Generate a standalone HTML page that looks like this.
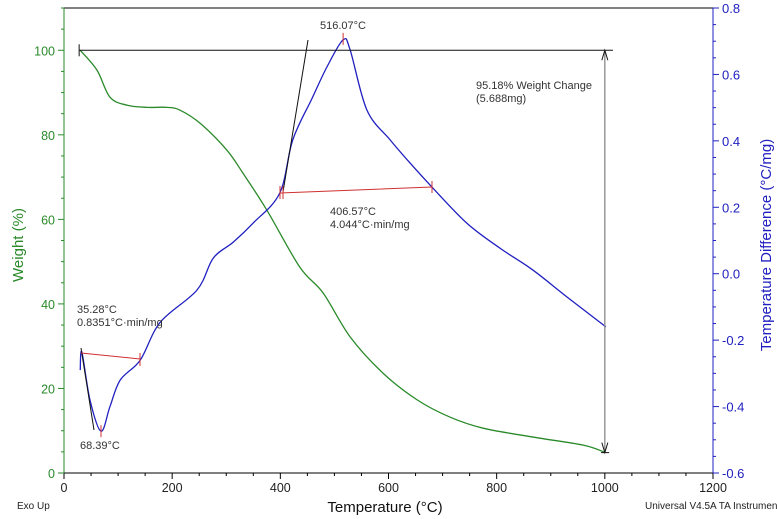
<!DOCTYPE html>
<html><head><meta charset="utf-8"><style>
body{margin:0;background:#fff;}
svg{display:block;font-family:"Liberation Sans",sans-serif;}
</style></head><body>
<svg id="c" width="777" height="519"></svg>
<script>
const weightTemps=[30,61,85,117,154,191,215,252,301,331,375,436,479,529,590,653,714,775,867,960,1000];
const weightValues=[100,95.3,88.9,87.0,86.5,86.5,85.8,82.7,76.4,70.9,62.2,48.7,42.6,32.2,23.6,17.3,13.2,10.6,8.5,6.6,4.9];
const dtaTemps=[30,33,48,68.4,85,104,141,178,246,276,313,350,399,423,459,486,516,529,560,603,640,682,745,806,867,930,1002];
const dtaValues=[-0.29,-0.236,-0.38,-0.474,-0.40,-0.32,-0.26,-0.146,-0.049,0.047,0.095,0.153,0.243,0.403,0.529,0.622,0.704,0.674,0.493,0.403,0.333,0.258,0.152,0.077,0.011,-0.07,-0.16];
const xTicks=[0,200,400,600,800,1000,1200];
const wTicks=[0,20,40,60,80,100];
const dTicks=[-0.6,-0.4,-0.2,0.0,0.2,0.4,0.6,0.8];
const L=64,R=713,T=8,B=473;
const xs=t=>L+(t-0)/1200*(R-L);
const yw=w=>B-(w/110)*(B-T);
const yd=d=>B-((d+0.6)/1.4)*(B-T);
const svg=document.getElementById('c');
const NS='http://www.w3.org/2000/svg';
function mk(tag,attrs,parent){const e=document.createElementNS(NS,tag);for(const k in attrs)e.setAttribute(k,attrs[k]);(parent||svg).appendChild(e);return e;}
function txt(x,y,s,attrs){const e=mk('text',Object.assign({x:x,y:y},attrs||{}));e.textContent=s;return e;}
let e;
e=mk('line',{x1:L,y1:T,x2:R,y2:T,stroke:'#000','stroke-width':1});


e=mk('line',{x1:L,y1:B,x2:R,y2:B,stroke:'#000','stroke-width':1});


e=mk('line',{x1:L,y1:T,x2:L,y2:B,stroke:'#2a8a2a','stroke-width':1});


e=mk('line',{x1:R,y1:T,x2:R,y2:B,stroke:'#2020c0','stroke-width':1});


for(let t=0;t<=1200;t+=50){const maj=t%200===0;
e=mk('line',{x1:xs(t),y1:B,x2:xs(t),y2:B+(maj?6:3),stroke:'#000'});

}
xTicks.forEach(t=>{e=txt(xs(t),B+19,String(t),{'font-size':12.5,'text-anchor':'middle',fill:'#222'});

});
for(let w=0;w<=110;w+=5){const maj=w%20===0;
e=mk('line',{x1:L,y1:yw(w),x2:L-(maj?6:3),y2:yw(w),stroke:'#2a8a2a'});

}
wTicks.forEach(w=>{e=txt(L-9,yw(w)+5,String(w),{'font-size':12.5,'text-anchor':'end',fill:'#2a8a2a'});

});
for(let i=0;i<=28;i++){const d=-0.6+i*0.05;const maj=i%4===0;
e=mk('line',{x1:R,y1:yd(d),x2:R+(maj?6:3),y2:yd(d),stroke:'#2020c0'});

}
dTicks.forEach(d=>{e=txt(R+9,yd(d)+5,d.toFixed(1),{'font-size':13,fill:'#2020c0'});

});
e=txt(385,512,'Temperature (°C)',{'font-size':15,'text-anchor':'middle',fill:'#111'});


e=txt(0,0,'Weight (%)',{'font-size':15,'text-anchor':'middle',fill:'#2a8a2a',transform:'translate(23,245) rotate(-90)'});


e=txt(0,0,'Temperature Difference (°C/mg)',{'font-size':15,'text-anchor':'middle',fill:'#2020c0',transform:'translate(771,245) rotate(-90)'});


e=txt(17,509,'Exo Up',{'font-size':10,fill:'#222'});


e=txt(645,509,'Universal V4.5A TA Instrumen',{'font-size':10,fill:'#222'});


function smooth(pts){let d='M'+pts[0][0]+','+pts[0][1];for(let i=0;i<pts.length-1;i++){const p0=pts[i-1]||pts[i],p1=pts[i],p2=pts[i+1],p3=pts[i+2]||p2;
d+=' C'+(p1[0]+(p2[0]-p0[0])/6)+','+(p1[1]+(p2[1]-p0[1])/6)+' '+(p2[0]-(p3[0]-p1[0])/6)+','+(p2[1]-(p3[1]-p1[1])/6)+' '+p2[0]+','+p2[1];}return d;}
e=mk('path',{d:smooth(weightTemps.map((t,i)=>[xs(t),yw(weightValues[i])])),fill:'none',stroke:'#2a8a2a','stroke-width':1.3});


e=mk('path',{d:smooth(dtaTemps.map((t,i)=>[xs(t),yd(dtaValues[i])])),fill:'none',stroke:'#2020c0','stroke-width':1.3});


e=mk('line',{x1:xs(28),y1:yw(100),x2:xs(1015),y2:yw(100),stroke:'#111'});


e=mk('line',{x1:xs(28),y1:yw(100)-6,x2:xs(28),y2:yw(100)+6,stroke:'#111'});


e=mk('line',{x1:xs(993),y1:yw(4.82),x2:xs(1008),y2:yw(4.82),stroke:'#111'});


e=mk('line',{x1:xs(1000),y1:yw(100),x2:xs(1000),y2:yw(4.82),stroke:'#888','stroke-width':1.3});


e=mk('path',{d:`M${xs(1000)-3},${yw(100)+10} L${xs(1000)},${yw(100)} L${xs(1000)+3},${yw(100)+10} M${xs(1000)-3},${yw(4.82)-10} L${xs(1000)},${yw(4.82)} L${xs(1000)+3},${yw(4.82)-10}`,fill:'none',stroke:'#111'});


e=mk('line',{x1:283,y1:192,x2:308,y2:40,stroke:'#111'});


e=mk('line',{x1:81,y1:348,x2:94,y2:430,stroke:'#111'});


e=mk('path',{d:'M280,193 L432,187 M280,186 L280,199 M283,186 L283,199 M432,181 L432,193',fill:'none',stroke:'#d03030'});


e=mk('path',{d:'M81,353 L140,359 M140,353 L140,366',fill:'none',stroke:'#d03030'});


e=mk('line',{x1:xs(516.07),y1:yd(0.704)-7,x2:xs(516.07),y2:yd(0.704)+5,stroke:'#d03030'});


e=mk('line',{x1:xs(68.39),y1:yd(-0.474)-6,x2:xs(68.39),y2:yd(-0.474)+6,stroke:'#d03030'});


const ann=[[320,29,'516.07°C','peak-label'],[476,89,'95.18% Weight Change','weight-change-label'],[476,102,'(5.688mg)','weight-mass-label'],[330,215,'406.57°C','onset-label'],[330,228,'4.044°C·min/mg','area-label'],[77,313,'35.28°C','onset-low-label'],[77,326,'0.8351°C·min/mg','area-low-label'],[80,449,'68.39°C','min-label']];
ann.forEach(a=>{e=txt(a[0],a[1],a[2],{'font-size':11,fill:'#333'});

});
</script>
</body></html>
